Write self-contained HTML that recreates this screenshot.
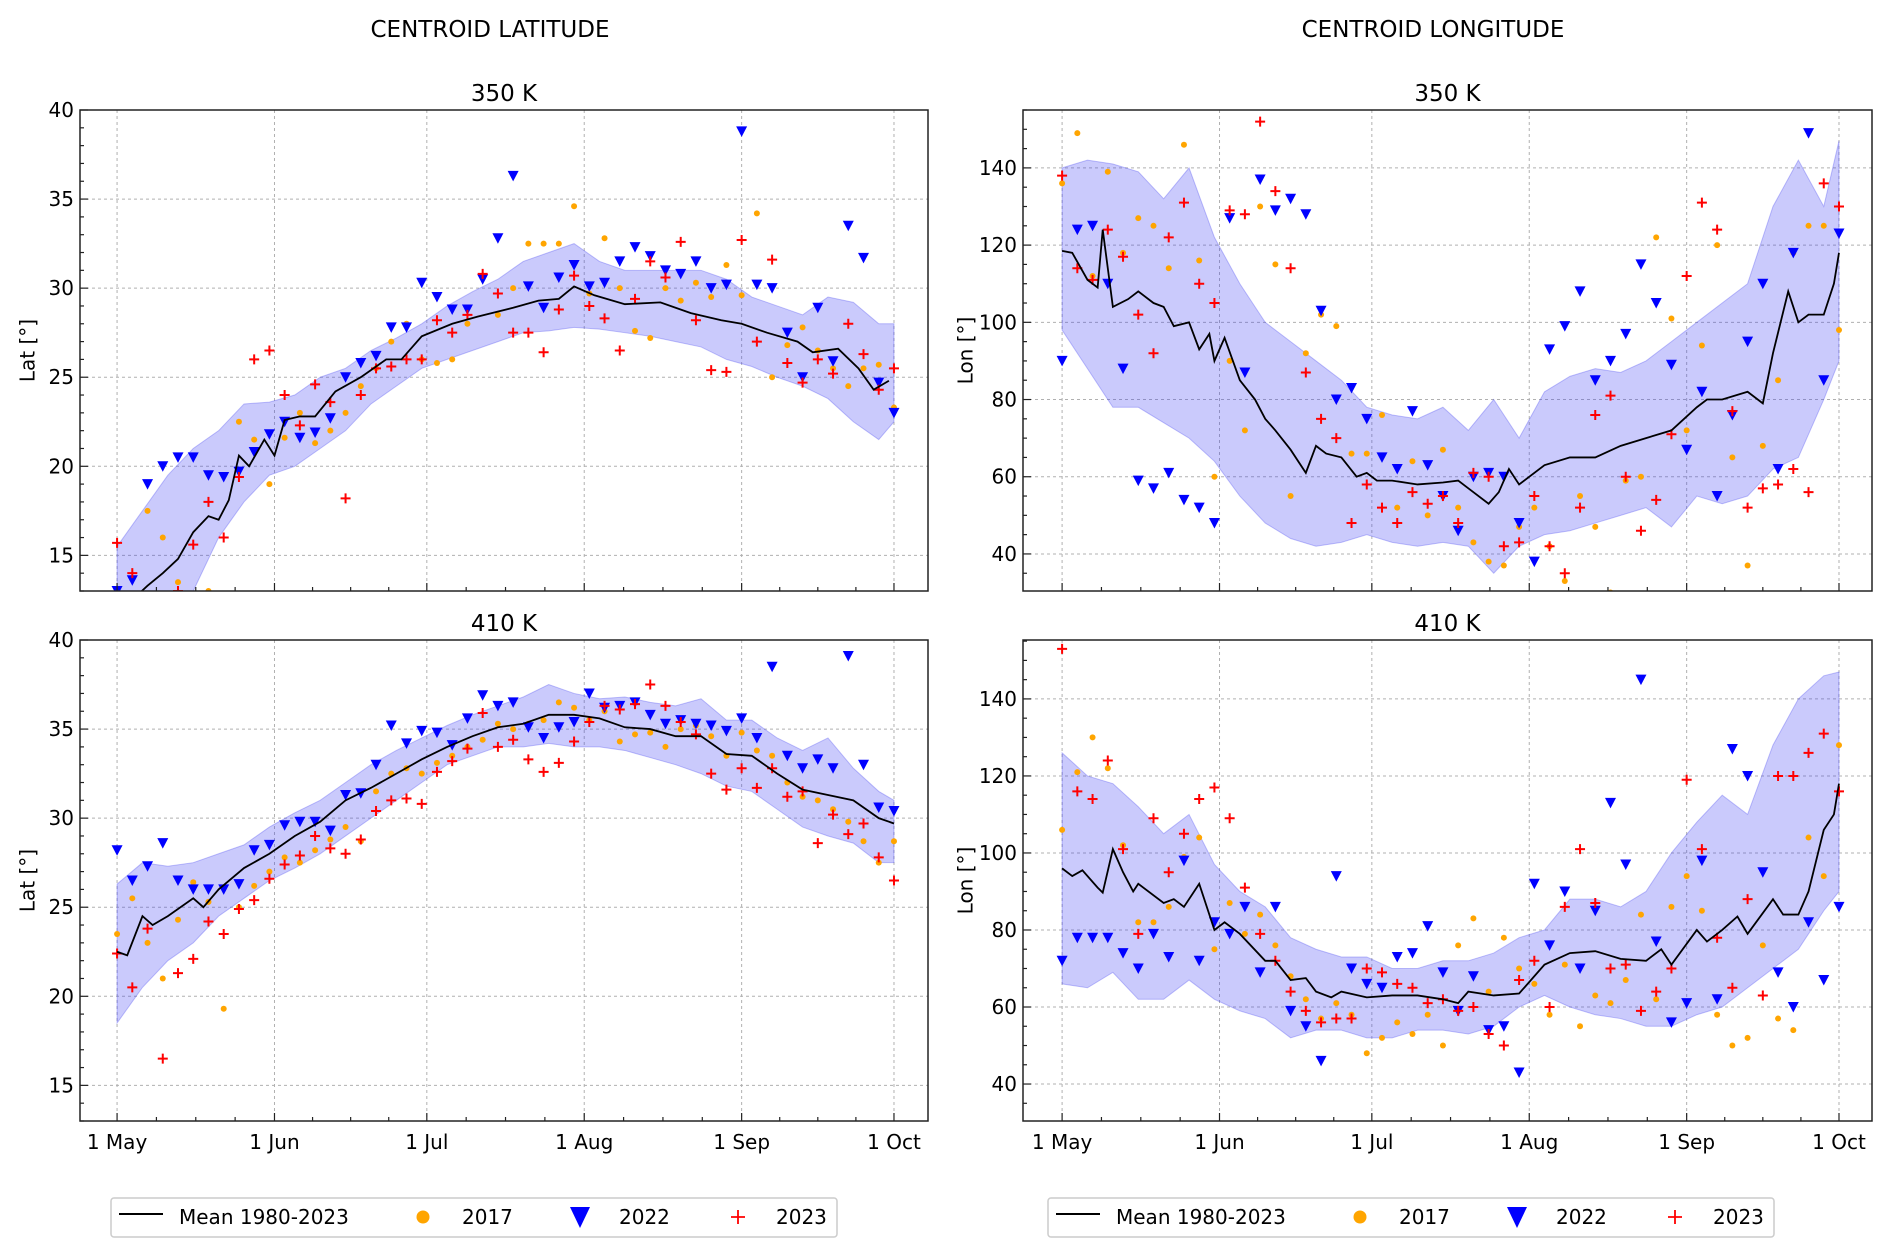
<!DOCTYPE html>
<html><head><meta charset="utf-8"><style>
html,body{margin:0;padding:0;background:#fff;}
svg{display:block;font-family:"DejaVu Sans","Liberation Sans",sans-serif;}
</style></head><body>
<svg id="fig" width="1892" height="1255" viewBox="0 0 1892 1255" xmlns="http://www.w3.org/2000/svg">
<text x="490" y="37" font-size="23" text-anchor="middle">CENTROID LATITUDE</text>
<text x="1433" y="37" font-size="23" text-anchor="middle">CENTROID LONGITUDE</text>
</svg>
<script>
const NS='http://www.w3.org/2000/svg';
const svg=document.getElementById('fig');
// shared data
const tickLabels=['1 May','1 Jun','1 Jul','1 Aug','1 Sep','1 Oct'];
const tickDays=[0,31,61,92,123,153];
const bandDays=[0,5,10,15,20,25,30,35,40,45,50,55,60,65,70,75,80,85,90,95,100,105,110,115,120,125,130,135,140,145,150,153];
const scatDays=[0,3,6,9,12,15,18,21,24,27,30,33,36,39,42,45,48,51,54,57,60,63,66,69,72,75,78,81,84,87,90,93,96,99,102,105,108,111,114,117,120,123,126,129,132,135,138,141,144,147,150,153];
// Panel A: 350 K latitude
const latA_meanDays=[0,3,6,9,12,15,18,20,22,24,26,29,31,33,36,39,43,48,53,56,60,66,71,78,83,87,90,94,100,107,113,119,123,128,134,137,142,146,149,152];
const latA_mean=[11.5,12.5,13.3,14,14.8,16.3,17.2,17.0,18.1,20.6,20.0,21.5,20.6,22.6,22.8,22.8,24.2,25,26,26,27.3,28,28.4,28.9,29.3,29.4,30.1,29.6,29.1,29.2,28.6,28.2,28,27.5,27,26.4,26.6,25.5,24.3,24.8];
const latA_hi=[15.5,17.5,19.5,21,22,23.5,23.6,24,25,25.5,26.5,27.2,28,29,29.8,30.5,31.5,32,32.5,31.5,31,31,31,31,30.5,29.5,29,28.5,29.5,29.2,28,28];
const latA_lo=[12,12,12,13,16,18,19.5,20,21,22,23.5,24.5,25.5,26,26.5,27,27.5,27.6,27.8,27.7,27.5,27.3,27,26.7,26,25.6,25,24.5,23.8,22.5,21.5,22.5];
const latA_2017=[13,12.5,17.5,16,13.5,11,13,19.5,22.5,21.5,19,21.6,23,21.3,22,23,24.5,25.5,27,28,26,25.8,26,28,30.7,28.5,30,32.5,32.5,32.5,34.6,29.7,32.8,30,27.6,27.2,30,29.3,30.3,29.5,31.3,29.6,34.2,25,26.8,27.8,26.5,25.5,24.5,25.5,25.7,23.3];
const latA_2022=[13,13.6,19,20,20.5,20.5,19.5,19.4,19.7,20.8,21.8,22.5,21.6,21.9,22.7,25,25.8,26.2,27.8,27.8,30.3,29.5,28.8,28.8,30.5,32.8,36.3,30.1,28.9,30.6,31.3,30.1,30.3,31.5,32.3,31.8,31,30.8,31.5,30,30.2,38.8,30.2,30,27.5,25,28.9,25.9,33.5,31.7,24.7,23];
const latA_2023=[15.7,14,12,11.7,13,15.6,18,16,19.4,26,26.5,24,22.3,24.6,23.6,18.2,24,25.5,25.6,26,26,28.2,27.5,28.5,30.8,29.7,27.5,27.5,26.4,28.8,30.7,29,28.3,26.5,29.4,31.5,30.6,32.6,28.2,25.4,25.3,32.7,27,31.6,25.8,24.7,26,25.2,28,26.3,24.3,25.5];
// Panel B: 350 K longitude
const lonB_meanDays=[0,2,5,7,8,10,13,15,18,20,22,25,27,29,30,32,35,38,40,42,45,48,50,52,55,58,60,62,65,70,75,78,80,84,86,88,90,95,100,105,110,115,120,125,127,130,135,138,140,143,145,147,150,152,153];
const lonB_mean=[118.5,118,111,109,124,104,106,108,105,104,99,100,93,97,90,96,85,80,75,72,67,61,68,66,65,60,61,59,59,58,58.5,59,57,53,56,62,58,63,65,65,68,70,72,78,80,80,82,79,92,108,100,102,102,110,118];
const lonB_hi=[140,142,141,139,132,140,122,110,100,95,90,85,78,76,75,78,72,80,70,82,86,88,87,90,95,100,105,110,130,142,130,147];
const lonB_lo=[98,88,78,78,74,70,64,55,48,44,42,43,45,43,42,43,42,35,42,45,46,48,50,52,47,55,53,55,62,65,80,90];
const lonB_2017=[136,149,112,139,118,127,125,114,146,116,60,90,72,130,115,55,92,102,99,66,66,76,52,64,50,67,52,43,38,37,47,52,42,33,55,47,30,59,60,122,101,72,94,120,65,37,68,85,118,125,125,98];
const lonB_2022=[90,124,125,110,88,59,57,61,54,52,48,127,87,137,129,132,128,103,80,83,75,65,62,77,63,55,46,60,61,60,48,38,93,99,108,85,90,97,115,105,89,67,82,55,76,95,110,62,118,149,85,123];
const lonB_2023=[138,114,111,124,117,102,92,122,131,110,105,129,128,152,134,114,87,75,70,48,58,52,48,56,53,55,48,61,60,42,43,55,42,35,52,76,81,60,46,54,71,112,131,124,77,52,57,58,62,56,136,130];
// Panel C: 410 K latitude
const latC_meanDays=[0,2,5,7,10,15,17,20,25,30,35,40,45,50,55,60,65,70,75,80,85,90,95,100,105,110,115,120,125,130,135,140,145,150,153];
const latC_mean=[22.5,22.3,24.5,24,24.5,25.5,25,26,27.2,28,29,29.8,31,31.7,32.5,33.3,34,34.6,35.1,35.3,35.8,35.8,35.6,35.1,35,34.6,34.6,33.6,33.5,32.5,31.6,31.3,31,30,29.7];
const latC_hi=[26.3,27.5,27.3,27.5,28,28.5,29.5,30.3,31,32,33,33.8,34.5,35.2,35.8,36.3,36.8,37.5,37,36.7,36.8,36.5,36.3,36.7,35.5,35.5,34.5,33.8,34.5,32.8,31.5,31];
const latC_lo=[18.5,20.5,22,23,24.5,25.5,26.5,27.2,28,29,30,31,32,33,33.5,34,34,34.2,34,34,33.8,33.4,33,32.5,31.8,31.5,30.5,29.5,29,28.6,27.5,27.5];
const latC_2017=[23.5,25.5,23,21,24.3,26.4,25.3,19.3,25,26.2,27,27.8,27.5,28.2,28.8,29.5,28.7,31.5,32.5,32.8,32.5,33.1,33.5,34,34.4,35.3,35,35.3,35.5,36.5,36.2,35.5,36,34.3,34.7,34.8,34,35,35.2,34.6,33.5,34.8,33.8,33.5,32,31.2,31,30.5,29.8,28.7,27.5,28.7];
const latC_2022=[28.2,26.5,27.3,28.6,26.5,26,26,26,26.3,28.2,28.5,29.6,29.8,29.8,29.3,31.3,31.4,33,35.2,34.2,34.9,34.8,34.1,35.6,36.9,36.3,36.5,35.1,34.5,35.1,35.4,37,36.2,36.3,36.5,35.8,35.3,35.5,35.3,35.2,34.9,35.6,34.5,38.5,33.5,32.8,33.3,32.8,39.1,33,30.6,30.4];
const latC_2023=[22.4,20.5,23.8,16.5,21.3,22.1,24.2,23.5,24.9,25.4,26.6,27.4,27.9,29,28.3,28,28.8,30.4,31,31.1,30.8,32.6,33.2,33.9,35.9,34,34.4,33.3,32.6,33.1,34.3,35.4,36.3,36.1,36.4,37.5,36.3,35.4,34.7,32.5,31.6,32.8,31.7,32.8,31.2,31.5,28.6,30.2,29.1,29.7,27.8,26.5];
// Panel D: 410 K longitude
const lonD_meanDays=[0,2,4,7,8,10,12,14,15,20,22,24,27,30,32,35,40,42,45,48,50,53,55,60,65,70,75,78,80,85,90,95,100,105,110,115,118,120,125,127,130,133,135,140,142,145,147,150,152,153];
const lonD_mean=[96,94,95.5,91,89.7,101,95,90,92,87,88,86,92,80,82,79,72,72,67,67.5,64,62.5,64,62.5,63,63,62,61,64,63,63.5,71,74,74.5,72.5,72,75,71,80,77,80,83.5,79,88,84,84,90,106,110,118];
const lonD_hi=[126,120,118,112,105,110,97,90,86,78,75,73,73,70,70,72,72,74,78,80,88,88,86,90,100,108,115,110,128,140,146,147];
const lonD_lo=[66,65,69,62,62,67,62,59,57,52,54,54,52,52,54,54,53,55,60,63,60,58,57,55,55,58,60,65,70,75,85,90];
const lonD_2017=[106,121,130,122,102,82,82,86,99,104,75,87,79,84,76,68,62,57,61,58,48,52,56,53,58,50,76,83,64,78,70,66,58,71,55,63,61,67,84,62,86,94,85,58,50,52,76,57,54,104,94,128];
const lonD_2022=[72,78,78,78,74,70,79,73,98,72,82,79,86,69,86,59,55,46,94,70,66,65,73,74,81,69,59,68,54,55,43,92,76,90,70,85,113,97,145,77,56,61,98,62,127,120,95,69,60,82,67,86];
const lonD_2023=[153,116,114,124,101,79,109,95,105,114,117,109,91,79,72,64,59,56,57,57,70,69,66,65,61,62,59,60,53,50,67,72,60,86,101,87,70,71,59,64,70,119,101,78,65,88,63,120,120,126,131,116];

const panels=[
 {id:'lat-350k',title:'350 K',x0:80,x1:928,y0:110,y1:591,xmin:-7.3,xmax:159.7,ymin:13,ymax:40,major:5,minor:1,ylab:'Lat [°]',labx:29,
  md:latA_meanDays,mean:latA_mean,hi:latA_hi,lo:latA_lo,s17:latA_2017,s22:latA_2022,s23:latA_2023,xl:false},
 {id:'lon-350k',title:'350 K',x0:1023,x1:1872,y0:110,y1:591,xmin:-7.7,xmax:159.5,ymin:30.4,ymax:155,major:20,minor:5,ylab:'Lon [°]',labx:967,
  md:lonB_meanDays,mean:lonB_mean,hi:lonB_hi,lo:lonB_lo,s17:lonB_2017,s22:lonB_2022,s23:lonB_2023,xl:false},
 {id:'lat-410k',title:'410 K',x0:80,x1:928,y0:640,y1:1121,xmin:-7.3,xmax:159.7,ymin:13,ymax:40,major:5,minor:1,ylab:'Lat [°]',labx:29,
  md:latC_meanDays,mean:latC_mean,hi:latC_hi,lo:latC_lo,s17:latC_2017,s22:latC_2022,s23:latC_2023,xl:true},
 {id:'lon-410k',title:'410 K',x0:1023,x1:1872,y0:640,y1:1121,xmin:-7.7,xmax:159.5,ymin:30.4,ymax:155.3,major:20,minor:5,ylab:'Lon [°]',labx:967,
  md:lonD_meanDays,mean:lonD_mean,hi:lonD_hi,lo:lonD_lo,s17:lonD_2017,s22:lonD_2022,s23:lonD_2023,xl:true}
];
function el(tag,attrs,parent){const e=document.createElementNS(NS,tag);for(const k in attrs)e.setAttribute(k,attrs[k]);(parent||svg).appendChild(e);return e;}

panels.forEach(p=>{
 const g=el('g',{});
 
 
 const X=d=>p.x0+(d-p.xmin)/(p.xmax-p.xmin)*(p.x1-p.x0);
 const Y=v=>p.y1-(v-p.ymin)/(p.ymax-p.ymin)*(p.y1-p.y0);
 const cp=el('clipPath',{id:'clip-'+p.id},g);
 el('rect',{x:p.x0,y:p.y0,width:p.x1-p.x0,height:p.y1-p.y0},cp);
 const t=el('text',{x:(p.x0+p.x1)/2,y:p.y0-9,'font-size':23,'text-anchor':'middle'},g);
 t.textContent=p.title;
 
 
 const grid=el('g',{stroke:'#b0b0b0','stroke-width':1,'stroke-dasharray':'3,3'},g);
 
 
 tickDays.forEach(d=>el('line',{x1:X(d),x2:X(d),y1:p.y0,y2:p.y1},grid));
 const yt=[];for(let v=Math.ceil(p.ymin/p.major)*p.major;v<=p.ymax+1e-6;v+=p.major)yt.push(v);
 yt.forEach(v=>el('line',{x1:p.x0,x2:p.x1,y1:Y(v),y2:Y(v)},grid));
 const data=el('g',{'clip-path':'url(#clip-'+p.id+')'},g);
 let pts=bandDays.map((d,i)=>X(d)+','+Y(p.hi[i]));
 for(let i=bandDays.length-1;i>=0;i--)pts.push(X(bandDays[i])+','+Y(p.lo[i]));
 const band=el('polygon',{points:pts.join(' '),fill:'rgba(60,60,245,0.27)',stroke:'rgba(80,80,240,0.35)','stroke-width':1},data);
 
 
 const g17=el('g',{fill:'#ffa500'},data);
 
 
 scatDays.forEach((d,i)=>el('circle',{cx:X(d),cy:Y(p.s17[i]),r:3},g17));
 const g22=el('g',{fill:'#0000ff'},data);
 
 
 scatDays.forEach((d,i)=>{const x=X(d),y=Y(p.s22[i]);el('polygon',{points:(x-5.5)+','+(y-5)+' '+(x+5.5)+','+(y-5)+' '+x+','+(y+5.5)},g22);});
 const g23=el('g',{stroke:'#ff0000','stroke-width':2},data);
 
 
 scatDays.forEach((d,i)=>{const x=X(d),y=Y(p.s23[i]);el('path',{d:'M'+(x-5)+' '+y+'H'+(x+5)+'M'+x+' '+(y-5)+'V'+(y+5)},g23);});
 const ml=el('polyline',{points:p.md.map((d,i)=>X(d)+','+Y(p.mean[i])).join(' '),fill:'none',stroke:'#000','stroke-width':1.8},data);
 
 
 el('rect',{x:p.x0,y:p.y0,width:p.x1-p.x0,height:p.y1-p.y0,fill:'none',stroke:'#222','stroke-width':1.5},g);
 const tk=el('g',{stroke:'#222','stroke-width':1.2},g);
 
 
 for(let v=Math.ceil(p.ymin/p.minor)*p.minor;v<=p.ymax;v+=p.minor){
  const maj=Math.abs(v/p.major-Math.round(v/p.major))<1e-6;
  el('line',{x1:p.x0,x2:p.x0+(maj?8:4),y1:Y(v),y2:Y(v)},tk);
 }
 tickDays.forEach((d,i)=>{
  el('line',{x1:X(d),x2:X(d),y1:p.y1,y2:p.y1-8},tk);
  if(i<tickDays.length-1)for(let k=1;k<4;k++){const dd=d+(tickDays[i+1]-d)*k/4;el('line',{x1:X(dd),x2:X(dd),y1:p.y1,y2:p.y1-4},tk);}
 });
 yt.forEach(v=>{const tx=el('text',{x:p.x0-6,y:Y(v)+7,'font-size':20,'text-anchor':'end'},g);tx.textContent=v;
  
  });
 if(p.xl)tickDays.forEach((d,i)=>{const tx=el('text',{x:X(d),y:p.y1+28,'font-size':20,'text-anchor':'middle'},g);tx.textContent=tickLabels[i];
  
  });
 const yl=el('text',{x:p.labx,y:(p.y0+p.y1)/2,'font-size':20,'text-anchor':'middle',transform:'rotate(-90 '+p.labx+' '+(p.y0+p.y1)/2+')','dominant-baseline':'middle'},g);
 yl.textContent=p.ylab;
 
 
});

[0,937].forEach((off,li)=>{
 const g=el('g',{transform:'translate('+off+',0)'});
 
 
 el('rect',{x:111,y:1198,width:726,height:39,rx:3,fill:'#fff',stroke:'#ccc','stroke-width':1.5},g);
 el('line',{x1:119,x2:163,y1:1214,y2:1214,stroke:'#000','stroke-width':2},g);
 el('circle',{cx:423,cy:1217,r:6.5,fill:'#ffa500'},g);
 el('polygon',{points:'570,1207 590,1207 580,1228',fill:'#0000ff'},g);
 el('path',{d:'M731 1217H745M738 1210V1224',stroke:'#ff0000','stroke-width':1.8},g);
 [['Mean 1980-2023',179],['2017',462],['2022',619],['2023',776]].forEach(([s,x])=>{
  const tx=el('text',{x:x,y:1224,'font-size':20},g);tx.textContent=s;
  
  
 });
});
</script>
</body></html>
